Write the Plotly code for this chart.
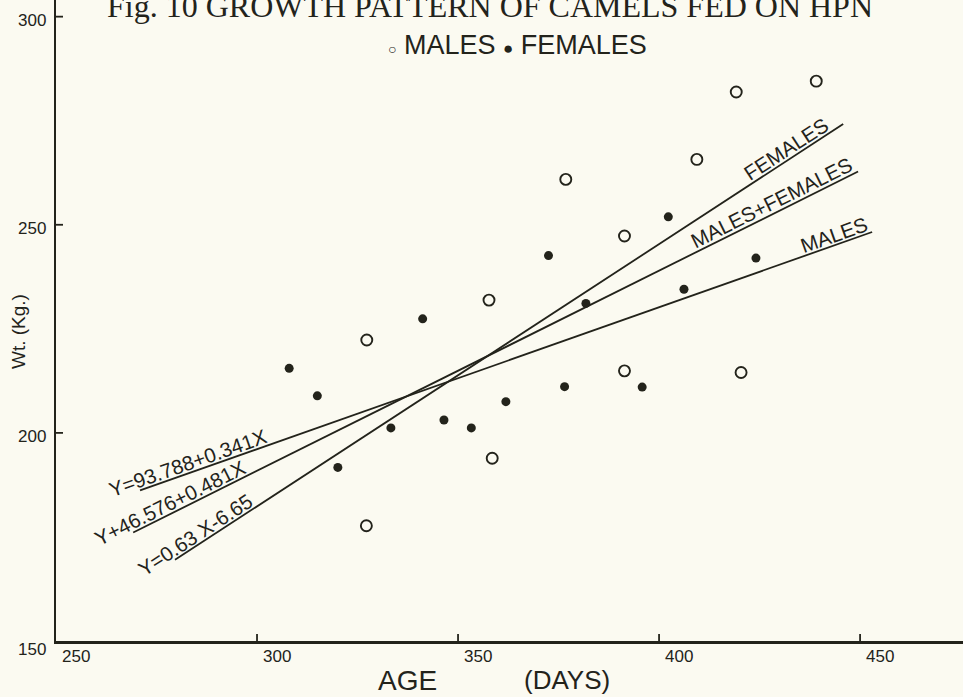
import math
import plotly.graph_objects as go

# ---------------- data ----------------
male_age = [327.3, 327.2, 357.7, 358.5, 376.8, 391.4, 391.4, 409.4, 419.2, 420.4, 439.1]
male_wt = [222.3, 177.7, 231.9, 193.9, 260.9, 247.3, 214.9, 265.7, 281.9, 214.5, 284.5]

female_age = [308.0, 315.0, 320.1, 333.3, 341.2, 346.5, 353.3, 361.9, 372.5, 376.5,
              381.8, 395.8, 402.3, 406.2, 424.1]
female_wt = [215.5, 208.9, 191.7, 201.2, 227.4, 203.1, 201.2, 207.5, 242.6, 211.1,
             231.1, 211.0, 251.9, 234.5, 242.0]

# regression lines as printed on the chart: Y = a + b*X
line_names = ["MALES", "MALES+FEMALES", "FEMALES"]
line_intercepts = [93.788, 46.576, -6.65]
line_slopes = [0.341, 0.481, 0.63]
line_x_start = [270.9, 269.2, 279.6]
line_x_end = [453.0, 449.5, 445.8]
equation_labels = ["Y=93.788+0.341X", "Y+46.576+0.481X", "Y=0.63 X-6.65"]
equation_label_x = [283.8, 279.6, 286.1]
name_label_x = [444.5, 429.1, 433.1]

x_ticks = [250, 300, 350, 400, 450]
y_ticks = [150, 200, 250, 300]
x_tick_labels = ["250", "300", "350", "400", "450"]
y_tick_labels = ["150", "200", "250", "300"]

# ---------------- style ----------------
INK = "#23231b"
BG = "#fbfaf1"
W, H = 963, 697
ML, MR, MT, MB = 56, 0, 0, 56
XR = [250, 475.6]
YR = [150, 304.0]
kx = (W - ML - MR) / (XR[1] - XR[0])
ky = (H - MT - MB) / (YR[1] - YR[0])

fig = go.Figure()

for a, b, x0, x1 in zip(line_intercepts, line_slopes, line_x_start, line_x_end):
    fig.add_trace(go.Scatter(
        x=[x0, x1], y=[a + b * x0, a + b * x1], mode="lines",
        line=dict(color=INK, width=1.8), hoverinfo="skip", showlegend=False))

fig.add_trace(go.Scatter(
    x=male_age, y=male_wt, mode="markers", name="MALES",
    marker=dict(symbol="circle-open", size=11, color=INK, line=dict(width=1.9, color=INK)),
    showlegend=False))
fig.add_trace(go.Scatter(
    x=female_age, y=female_wt, mode="markers", name="FEMALES",
    marker=dict(symbol="circle", size=9, color=INK),
    showlegend=False))

FONT = "Liberation Sans, Arial, sans-serif"
ann = []
shapes = []

# ticks crossing the axes
for v in x_ticks[1:]:
    shapes.append(dict(type="line", xref="x", yref="y", ysizemode="pixel", yanchor=150,
                       x0=v, x1=v, y0=-7, y1=7, line=dict(color=INK, width=1.8)))
for v in y_ticks[1:]:
    shapes.append(dict(type="line", xref="x", yref="y", xsizemode="pixel", xanchor=250,
                       y0=v, y1=v, x0=-7, x1=7, line=dict(color=INK, width=1.8)))

for v, t in zip(x_ticks, x_tick_labels):
    ann.append(dict(x=v, y=150, xref="x", yref="y", text=t, showarrow=False,
                    xanchor="left", yanchor="top", xshift=4, yshift=-4,
                    font=dict(family=FONT, size=17, color=INK)))
for v, t in zip(y_ticks, y_tick_labels):
    ann.append(dict(x=250, y=v, xref="x", yref="y", text=t, showarrow=False,
                    xanchor="right", yanchor="middle", xshift=-8,
                    yshift=-8 if v == 150 else -4,
                    font=dict(family=FONT, size=17, color=INK)))

# labels along the regression lines
for a, b, ex, eq, nx, nm in zip(line_intercepts, line_slopes, equation_label_x,
                                equation_labels, name_label_x, line_names):
    ang = math.atan(b * ky / kx)
    d = 10.5
    for xx, txt in ((ex, eq), (nx, nm)):
        ann.append(dict(x=xx, y=a + b * xx, xref="x", yref="y", text=txt, showarrow=False,
                        textangle=-math.degrees(ang), xanchor="center", yanchor="middle",
                        xshift=-d * math.sin(ang), yshift=d * math.cos(ang),
                        font=dict(family=FONT, size=20.5, color=INK)))

# title (cut by the top edge as in the scan)
ann.append(dict(x=(490 - ML) / (W - ML), y=(H - MB - 26) / (H - MB), xref="paper", yref="paper",
                text="Fig. 10 GROWTH PATTERN OF CAMELS FED ON HPN", showarrow=False,
                xanchor="center", yanchor="bottom",
                font=dict(family="Liberation Serif, Times New Roman, serif", size=32, color=INK)))
ann.append(dict(x=(517 - ML) / (W - ML), y=(H - MB - 45) / (H - MB), xref="paper", yref="paper",
                text="<span style='font-size:14px'>○</span> MALES <span style='font-size:17px'>●</span> FEMALES",
                showarrow=False, xanchor="center", yanchor="middle",
                font=dict(family=FONT, size=27, color=INK)))
ann.append(dict(x=(407 - ML) / (W - ML), y=0, xref="paper", yref="paper", text="AGE",
                showarrow=False, xanchor="center", yanchor="middle", yshift=-39,
                font=dict(family=FONT, size=28, color=INK)))
ann.append(dict(x=(567 - ML) / (W - ML), y=0, xref="paper", yref="paper", text="(DAYS)",
                showarrow=False, xanchor="center", yanchor="middle", yshift=-39,
                font=dict(family=FONT, size=26, color=INK)))
ann.append(dict(x=-(56 - 18) / (W - ML), y=(H - MB - 332) / (H - MB), xref="paper", yref="paper",
                text="Wt. (Kg.)", showarrow=False, textangle=-90,
                xanchor="center", yanchor="middle",
                font=dict(family=FONT, size=19, color=INK)))

fig.update_layout(
    width=W, height=H, margin=dict(l=ML, r=MR, t=MT, b=MB),
    paper_bgcolor=BG, plot_bgcolor=BG, showlegend=False,
    xaxis=dict(range=XR, showgrid=False, zeroline=False, showline=True, linecolor=INK,
               linewidth=3, tickvals=x_ticks, showticklabels=False, ticks=""),
    yaxis=dict(range=YR, showgrid=False, zeroline=False, showline=True, linecolor=INK,
               linewidth=2, tickvals=y_ticks, showticklabels=False, ticks=""),
    annotations=ann, shapes=shapes,
)

fig.write_html("out.html")
